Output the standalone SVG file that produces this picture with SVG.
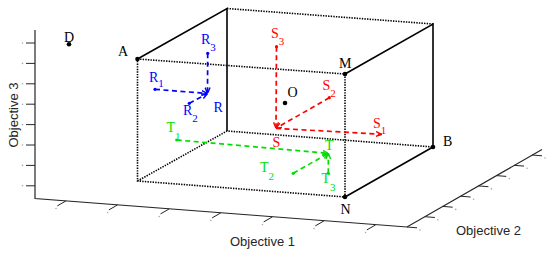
<svg xmlns="http://www.w3.org/2000/svg" width="550" height="254" viewBox="0 0 550 254">
<style>
.ax{stroke:#262626;stroke-width:1.2;fill:none}
.tk{stroke:#262626;stroke-width:1;fill:none}
.tl{fill:#a8a8a8}
.solid{stroke:#000;stroke-width:1.6;fill:none}
.dot{stroke:#000;stroke-width:1.6;stroke-dasharray:1.4 1.2;fill:none}
.lbl{font-family:"Liberation Serif","Times New Roman",serif;font-size:14px}
.sub{font-size:11px}
.axl{font-family:"Liberation Sans",Arial,sans-serif;font-size:13px;fill:#262626}
.db{stroke:#0000ff;stroke-width:1.7;stroke-dasharray:5 3.5;fill:none;marker-end:url(#ab)}
.dr{stroke:#ff0000;stroke-width:1.7;stroke-dasharray:5 3.5;fill:none;marker-end:url(#ar)}
.dg{stroke:#00e000;stroke-width:1.7;stroke-dasharray:5 3.5;fill:none;marker-end:url(#ag)}
</style>
<defs>
<marker id="ab" viewBox="0 0 6 6" refX="6" refY="3" markerWidth="6" markerHeight="6" markerUnits="userSpaceOnUse" orient="auto"><path d="M0,0.5 L6,3 L0,5.5" fill="none" stroke="#0000ff" stroke-width="1.4"/></marker>
<marker id="ar" viewBox="0 0 6 6" refX="6" refY="3" markerWidth="6" markerHeight="6" markerUnits="userSpaceOnUse" orient="auto"><path d="M0,0.5 L6,3 L0,5.5" fill="none" stroke="#ff0000" stroke-width="1.4"/></marker>
<marker id="ag" viewBox="0 0 6 6" refX="6" refY="3" markerWidth="6" markerHeight="6" markerUnits="userSpaceOnUse" orient="auto"><path d="M0,0.5 L6,3 L0,5.5" fill="none" stroke="#00e000" stroke-width="1.4"/></marker>
</defs>

<g id="axes">
<path class="ax" d="M35,30 L35,198.5 L407,227 L542,149.5"/>
<path class="tk" d="M26,43H35 M26,63.4H35 M26,83.8H35 M26,104.2H35 M26,124.6H35 M26,145H35 M26,165.4H35 M26,185.8H35"/>
<g class="tl">
<circle cx="22.5" cy="43" r="0.8"/><circle cx="22.5" cy="63.4" r="0.8"/><circle cx="22.5" cy="83.8" r="0.8"/><circle cx="22.5" cy="104.2" r="0.8"/><circle cx="22.5" cy="124.6" r="0.8"/><circle cx="22.5" cy="145" r="0.8"/><circle cx="22.5" cy="165.4" r="0.8"/><circle cx="22.5" cy="185.8" r="0.8"/>
</g>
<path class="tk" d="M66,200.9 l-8.7,5 M117.6,204.9 l-8.7,5 M169.2,208.9 l-8.7,5 M220.8,212.9 l-8.7,5 M272.4,216.9 l-8.7,5 M324,220.9 l-8.7,5 M375.6,224.9 l-8.7,5"/>
<g class="tl">
<circle cx="56" cy="208.5" r="0.8"/><circle cx="107.6" cy="212.5" r="0.8"/><circle cx="159.2" cy="216.5" r="0.8"/><circle cx="210.8" cy="220.5" r="0.8"/><circle cx="262.4" cy="224.5" r="0.8"/><circle cx="314" cy="228.5" r="0.8"/><circle cx="365.6" cy="232.5" r="0.8"/>
</g>
<path class="tk" d="M407,227 l10,0.8 M424.9,216.7 l10,0.8 M442.7,206.4 l10,0.8 M460.6,196.2 l10,0.8 M478.4,185.9 l10,0.8 M496.3,175.6 l10,0.8 M514.1,165.3 l10,0.8 M532,155 l10,0.8"/>
<g class="tl">
<circle cx="420" cy="230" r="0.8"/><circle cx="437.9" cy="219.7" r="0.8"/><circle cx="455.7" cy="209.4" r="0.8"/><circle cx="473.6" cy="199.2" r="0.8"/><circle cx="491.4" cy="188.9" r="0.8"/><circle cx="509.3" cy="178.6" r="0.8"/><circle cx="527.1" cy="168.3" r="0.8"/><circle cx="545" cy="158" r="0.8"/>
</g>
<text class="axl" x="230" y="246">Objective 1</text>
<text class="axl" x="456" y="234.5">Objective 2</text>
<text class="axl" transform="translate(18,115) rotate(-90)" text-anchor="middle">Objective 3</text>
</g>

<g id="box">
<path class="solid" d="M137.5,59 L227,8.5 L227,131 M345,74 L433,24 L433,147 L345,197"/>
<path class="dot" d="M137.5,59 L345,74 L345,197 L137.5,181 Z M227,8.5 L433,24 M137.5,181 L227,131 L433,147"/>
</g>

<g id="connectors">
<path class="db" d="M155,89.3 L207.5,93.5"/>
<path class="db" d="M207.7,53.3 L207.5,93.5"/>
<path class="db" d="M189.3,103.3 L207.5,93.5"/>
<path class="dr" d="M276.5,46.7 L276,128.3"/>
<path class="dr" d="M329.3,97.7 L276,128.3"/>
<path class="dr" d="M276,128.3 L381.7,134.3"/>
<path class="dg" d="M176.7,140 L328.3,153.3"/>
<path class="dg" d="M293.3,173.3 L328.3,153.3"/>
<path class="dg" d="M328.3,173.3 L328.3,153.3"/>
</g>

<g id="node-A"><circle cx="137.5" cy="59" r="2.3"/><text class="lbl" x="118" y="56">A</text></g>
<g id="node-M"><circle cx="345" cy="74" r="2.3"/><text class="lbl" x="339" y="68">M</text></g>
<g id="node-B"><circle cx="433" cy="147" r="2.3"/><text class="lbl" x="443" y="146">B</text></g>
<g id="node-N"><circle cx="345" cy="197" r="2.3"/><text class="lbl" x="340.5" y="214">N</text></g>
<g id="node-D"><circle cx="69" cy="44.3" r="2.3"/><text class="lbl" x="64" y="42">D</text></g>
<g id="node-O"><circle cx="285" cy="103" r="2.3"/><text class="lbl" x="287.5" y="96.7">O</text></g>

<g id="node-R" fill="#0000ff">
<text class="lbl" x="213.5" y="111.7" fill="#0000ff">R</text>
<circle cx="155" cy="89.3" r="1.6"/><text class="lbl" x="149" y="81.7" fill="#0000ff">R<tspan class="sub" dy="5.3">1</tspan></text>
<circle cx="189.3" cy="103.3" r="1.6"/><text class="lbl" x="183" y="115" fill="#0000ff">R<tspan class="sub" dy="6.7">2</tspan></text>
<circle cx="207.7" cy="53.3" r="1.6"/><text class="lbl" x="201" y="44" fill="#0000ff">R<tspan class="sub" dy="6.7">3</tspan></text>
</g>

<g id="node-S" fill="#ff0000">
<text class="lbl" x="272.5" y="146.7" fill="#ff0000">S</text>
<text class="lbl" x="373" y="128.3" fill="#ff0000">S<tspan class="sub" dy="6">1</tspan></text>
<circle cx="329.3" cy="97.7" r="1.6"/><text class="lbl" x="322.5" y="90" fill="#ff0000">S<tspan class="sub" dy="6.7">2</tspan></text>
<circle cx="276.5" cy="46.7" r="1.6"/><text class="lbl" x="271" y="37.7" fill="#ff0000">S<tspan class="sub" dy="7.3">3</tspan></text>
</g>

<g id="node-T" fill="#00e000">
<text class="lbl" x="325" y="150" fill="#00e000">T</text>
<circle cx="176.7" cy="140" r="1.6"/><text class="lbl" x="166.5" y="132.3" fill="#00e000">T<tspan class="sub" dy="7.7">1</tspan></text>
<circle cx="293.3" cy="173.3" r="1.6"/><text class="lbl" x="260" y="172.3" fill="#00e000">T<tspan class="sub" dy="7.7">2</tspan></text>
<circle cx="328.3" cy="173.3" r="1.6"/><text class="lbl" x="321.5" y="183.3" fill="#00e000">T<tspan class="sub" dy="7.7">3</tspan></text>
</g>
</svg>
